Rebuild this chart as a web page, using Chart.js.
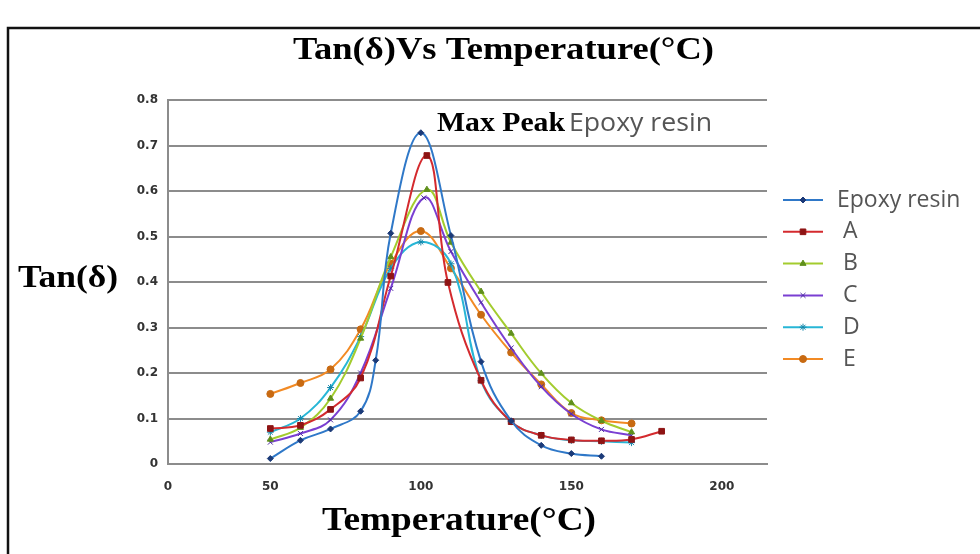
<!DOCTYPE html>
<html>
<head>
<meta charset="utf-8">
<script src="https://cdn.jsdelivr.net/npm/chart.js@4.4.1/dist/chart.umd.min.js"></script>
<style>
html, body { margin: 0; padding: 0; background: #fff; }
</style>
</head>
<body>
<canvas id="myChart" width="980" height="554"></canvas>
<script>
// values
const seriesNames = ["Epoxy resin", "A", "B", "C", "D", "E"];

const epoxyTemp = [50, 60, 70, 80, 85, 90, 100, 110, 120, 130, 140, 150, 160];
const epoxyTan  = [0.012, 0.052, 0.077, 0.116, 0.228, 0.507, 0.728, 0.502, 0.225, 0.095, 0.041, 0.023, 0.017];

const aTemp = [50, 60, 70, 80, 90, 102, 109, 120, 130, 140, 150, 160, 170, 180];
const aTan  = [0.078, 0.085, 0.12, 0.189, 0.413, 0.678, 0.399, 0.184, 0.093, 0.063, 0.053, 0.051, 0.054, 0.072];

const bTemp = [50, 60, 70, 80, 90, 102, 110, 120, 130, 140, 150, 160, 170];
const bTan  = [0.054, 0.08, 0.144, 0.276, 0.455, 0.603, 0.487, 0.379, 0.287, 0.199, 0.134, 0.095, 0.07];

const cTemp = [50, 60, 70, 80, 90, 101, 110, 120, 130, 140, 150, 160, 170];
const cTan  = [0.048, 0.067, 0.097, 0.2, 0.386, 0.585, 0.467, 0.355, 0.255, 0.17, 0.11, 0.076, 0.063];

const dTemp = [50, 60, 70, 80, 90, 100, 110, 120, 130, 140, 150, 160, 170];
const dTan  = [0.07, 0.1, 0.168, 0.28, 0.43, 0.488, 0.44, 0.183, 0.093, 0.063, 0.052, 0.05, 0.047];

const eTemp = [50, 60, 70, 80, 90, 100, 110, 120, 130, 140, 150, 160, 170];
const eTan  = [0.154, 0.178, 0.208, 0.296, 0.44, 0.512, 0.43, 0.328, 0.245, 0.175, 0.112, 0.096, 0.089];

const xTickValues = [16, 50, 100, 150, 200];
const xTickLabels = ["0", "50", "100", "150", "200"];
const yTickValues = [0, 0.1, 0.2, 0.3, 0.4, 0.5, 0.6, 0.7, 0.8];

const lineColors   = ["#2f78c8", "#d42a2e", "#a3cc2e", "#7a3fd2", "#27b6d6", "#f28a24"];
const markerColors = ["#1b3a78", "#8e1414", "#5f8f1c", "#4a2aa0", "#1787aa", "#c86a12"];
const markerStyles = ["rectRot", "rect", "triangle", "crossRot", "star", "circle"];
const markerSizes  = [3, 4, 3.5, 3.5, 3.5, 3.5];

const temps = [epoxyTemp, aTemp, bTemp, cTemp, dTemp, eTemp];
const tans  = [epoxyTan, aTan, bTan, cTan, dTan, eTan];

function pairs(xs, ys) {
    return xs.map((x, i) => ({ x: x, y: ys[i] }));
}

let datasets = seriesNames.map((name, i) => ({
    label: name,
    data: pairs(temps[i], tans[i]),
    borderColor: lineColors[i],
    backgroundColor: markerColors[i],
    pointBackgroundColor: markerColors[i],
    pointBorderColor: markerColors[i],
    pointStyle: markerStyles[i],
    pointRadius: markerSizes[i],
    pointBorderWidth: 1,
    borderWidth: 2,
    tension: 0.4,
    fill: false
}));

// draw text squeezed/stretched to a given width (the reference is a scaled picture)
function fitText(ctx, text, x, y, font, color, width) {
    ctx.save();
    ctx.font = font;
    ctx.fillStyle = color;
    ctx.textBaseline = "alphabetic";
    ctx.textAlign = "left";
    let w = ctx.measureText(text).width;
    ctx.translate(x, y);
    ctx.scale(width / w, 1);
    ctx.fillText(text, 0, 0);
    ctx.restore();
}

const decor = {
    id: "decor",
    beforeDraw(chart) {
        let ctx = chart.ctx;
        ctx.save();
        ctx.fillStyle = "#fff";
        ctx.fillRect(0, 0, chart.width, chart.height);
        ctx.restore();
    },
    afterDraw(chart) {
        let ctx = chart.ctx;
        // frame
        ctx.save();
        ctx.strokeStyle = "#111";
        ctx.lineWidth = 2.5;
        ctx.beginPath();
        ctx.moveTo(8, 560);
        ctx.lineTo(8, 28);
        ctx.lineTo(985, 28);
        ctx.stroke();
        ctx.restore();

        fitText(ctx, "Tan(δ)Vs Temperature(°C)", 293, 59, 'bold 31px "Liberation Serif"', "#000", 421);
        fitText(ctx, "Tan(δ)", 18, 287, 'bold 32px "Liberation Serif"', "#000", 100);
        fitText(ctx, "Temperature(°C)", 322, 530, 'bold 34px "Liberation Serif"', "#000", 274);
        fitText(ctx, "Max Peak", 437, 131, 'bold 27px "Liberation Serif"', "#000", 128);
        fitText(ctx, "Epoxy resin", 569, 131, '25px "Open Sans"', "#555", 143);

        // legend
        let top = 200, gap = 31.8;
        chart.data.datasets.forEach((ds, i) => {
            let y = top + i * gap;
            ctx.save();
            ctx.strokeStyle = ds.borderColor;
            ctx.lineWidth = 2;
            ctx.beginPath();
            ctx.moveTo(783, y);
            ctx.lineTo(823, y);
            ctx.stroke();
            ctx.fillStyle = ds.pointBackgroundColor;
            ctx.strokeStyle = ds.pointBorderColor;
            ctx.lineWidth = 1;
            Chart.helpers.drawPoint(ctx, { pointStyle: ds.pointStyle, radius: ds.pointRadius, borderWidth: 1, rotation: 0 }, 803, y);
            ctx.restore();
            ctx.save();
            ctx.font = '23px "Open Sans"';
            ctx.fillStyle = "#555";
            ctx.textBaseline = "middle";
            ctx.fillText(ds.label, i === 0 ? 837 : 843, y);
            ctx.restore();
        });
    }
};

let ctx = document.getElementById("myChart").getContext('2d');
let myChart = new Chart(ctx, {
    type: 'line',
    data: { datasets: datasets },
    options: {
        responsive: false,
        animation: false,
        devicePixelRatio: 1,
        layout: { padding: { top: 100, right: 213, left: 0, bottom: 0 } },
        plugins: {
            legend: { display: false },
            tooltip: { enabled: false }
        },
        scales: {
            x: {
                type: 'linear',
                min: 16,
                max: 215,
                afterBuildTicks: s => { s.ticks = xTickValues.map(v => ({ value: v })); },
                afterFit: s => { s.height = 90; },
                ticks: {
                    padding: 8,
                    color: "#333",
                    font: { family: "DejaVu Sans", size: 12, weight: "bold" },
                    callback: v => xTickLabels[xTickValues.indexOf(v)]
                },
                grid: { display: false },
                border: { display: true, color: "#8c8c8c", width: 2 }
            },
            y: {
                min: 0,
                max: 0.8,
                afterBuildTicks: s => { s.ticks = yTickValues.map(v => ({ value: v })); },
                afterFit: s => { s.width = 168; },
                ticks: {
                    padding: 10,
                    color: "#333",
                    font: { family: "DejaVu Sans", size: 12, weight: "bold" },
                    callback: v => v === 0 ? "0" : v.toFixed(1)
                },
                grid: { color: "#8c8c8c", lineWidth: 2, drawTicks: false },
                border: { display: true, color: "#8c8c8c", width: 2 }
            }
        }
    },
    plugins: [decor]
});
</script>
</body>
</html>
